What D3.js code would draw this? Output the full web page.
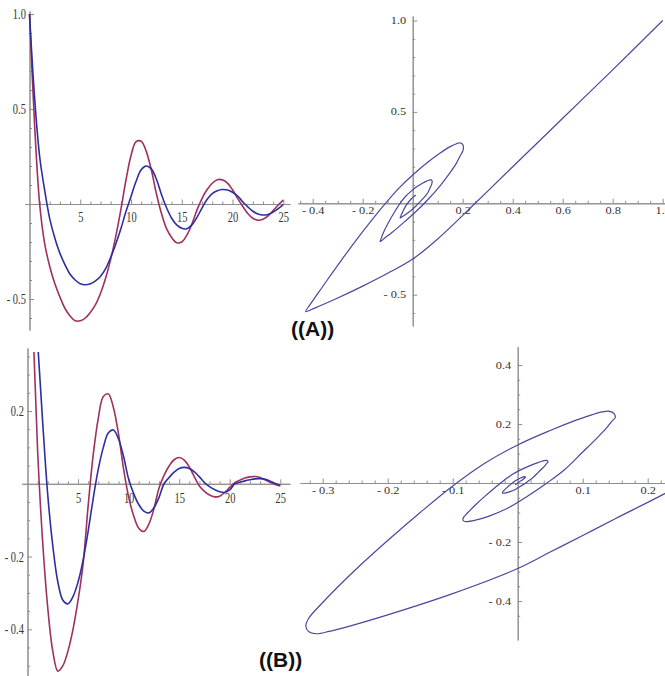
<!DOCTYPE html>
<html>
<head>
<meta charset="utf-8">
<script src="https://cdn.jsdelivr.net/npm/d3@7"></script>
<style>
  body { margin: 0; background: #fff; }
  svg { display: block; }
  .axis path, .axis line { stroke: #8e8e8e; stroke-width: 1; }
  .axis text { fill: #333; font-family: "Liberation Serif", "DejaVu Serif", serif; }
  .tag { font-family: "Liberation Sans", Arial, sans-serif; font-weight: bold; fill: #111; }
</style>
</head>
<body>
<svg id="chart" width="665" height="676"></svg>
<script>
// sampling times of the time series
const times = [0, 0.5, 1, 1.5, 2, 2.5, 3, 3.5, 4, 4.5, 5, 5.5, 6, 6.5, 7, 7.5, 8, 8.5, 9, 9.5,
  10, 10.5, 11, 11.5, 12, 12.5, 13, 13.5, 14, 14.5, 15, 15.5, 16, 16.5, 17, 17.5, 18, 18.5, 19, 19.5,
  20, 20.5, 21, 21.5, 22, 22.5, 23, 23.5, 24, 24.5, 25];

// case (A) time series
const redA = [1.0, 0.42, 0.0, -0.21, -0.33, -0.42, -0.49, -0.55, -0.59, -0.615,
  -0.615, -0.60, -0.57, -0.53, -0.47, -0.39, -0.29, -0.17, -0.03, 0.125,
  0.255, 0.328, 0.33, 0.277, 0.18, 0.054, -0.05, -0.13, -0.176, -0.204,
  -0.20, -0.164, -0.105, -0.031, 0.03, 0.076, 0.109, 0.128, 0.127, 0.11,
  0.075, 0.03, -0.012, -0.05, -0.075, -0.085, -0.08, -0.062, -0.035, -0.005, 0.02];
const blueA = [1.0, 0.56, 0.25, 0.07, -0.08, -0.18, -0.26, -0.32, -0.37, -0.40,
  -0.42, -0.425, -0.42, -0.405, -0.38, -0.34, -0.28, -0.21, -0.13, -0.04,
  0.04, 0.12, 0.18, 0.20, 0.185, 0.13, 0.05, -0.02, -0.075, -0.11,
  -0.128, -0.13, -0.11, -0.07, -0.02, 0.025, 0.055, 0.07, 0.076, 0.074,
  0.062, 0.042, 0.012, -0.015, -0.038, -0.052, -0.058, -0.055, -0.042, -0.024, -0.003];

// case (B) time series
const redB = [0.9, 0.47, 0.09, -0.16, -0.34, -0.46, -0.515, -0.50, -0.46, -0.40,
  -0.32, -0.22, -0.06, 0.08, 0.18, 0.24, 0.247, 0.209, 0.137, 0.041,
  -0.036, -0.088, -0.122, -0.131, -0.111, -0.069, -0.012, 0.023, 0.049, 0.066,
  0.072, 0.065, 0.046, 0.019, -0.006, -0.021, -0.031, -0.036, -0.034, -0.024,
  -0.01, 0.003, 0.01, 0.016, 0.019, 0.02, 0.017, 0.011, 0.004, -0.002, -0.006];
const blueB = [0.95, 0.65, 0.39, 0.17, -0.03, -0.17, -0.27, -0.32, -0.33, -0.31,
  -0.27, -0.21, -0.13, -0.04, 0.04, 0.10, 0.14, 0.148, 0.123, 0.075,
  0.013, -0.027, -0.057, -0.075, -0.08, -0.066, -0.038, 0.0, 0.017, 0.032,
  0.042, 0.045, 0.042, 0.033, 0.019, 0.003, -0.008, -0.016, -0.022, -0.024,
  -0.017, 0.0, 0.004, 0.008, 0.011, 0.0135, 0.014, 0.012, 0.007, 0.001, -0.004];

// phase portraits, points along each spiral (x = blue, y = red)
const phaseAx = [1.0, 0.8, 0.6, 0.4, 0.25, 0.1, 0.0, -0.1, -0.2, -0.3, -0.39, -0.428,
  -0.41, -0.36, -0.29, -0.2, -0.109, -0.05, 0.0, 0.06, 0.11, 0.15, 0.175, 0.19, 0.2, 0.203, 0.2,
  0.19, 0.175, 0.148, 0.112, 0.064, 0.013, -0.04, -0.083, -0.112, -0.13,
  -0.127, -0.117, -0.099, -0.074, -0.047, -0.027, -0.009, 0.014, 0.036, 0.053, 0.065, 0.074, 0.077, 0.078, 0.077,
  0.075, 0.07, 0.063, 0.051, 0.031, 0.012, -0.008, -0.027, -0.04, -0.05,
  -0.049, -0.044, -0.037, -0.027, -0.014, -0.005, 0.003, 0.012];
const phaseAy = [1.0, 0.73, 0.465, 0.2, 0.0, -0.195, -0.305, -0.383, -0.453, -0.518, -0.572, -0.592,
  -0.553, -0.455, -0.32, -0.155, 0.0, 0.09, 0.155, 0.225, 0.275, 0.31, 0.326, 0.331, 0.322, 0.305, 0.285,
  0.26, 0.22, 0.165, 0.1, 0.025, -0.045, -0.11, -0.16, -0.19, -0.21,
  -0.196, -0.16, -0.11, -0.05, 0.007, 0.04, 0.063, 0.089, 0.107, 0.12, 0.126, 0.128, 0.125, 0.118, 0.111,
  0.101, 0.086, 0.065, 0.04, 0.011, -0.016, -0.041, -0.06, -0.072, -0.08,
  -0.074, -0.0589, -0.0381, -0.0127, 0.0112, 0.025, 0.035, 0.0458];
const phaseBx = [0.4, 0.3, 0.227, 0.15, 0.1, 0.05, 0.0, -0.1, -0.2, -0.26, -0.29, -0.31, -0.322, -0.326,
  -0.322, -0.30, -0.25, -0.2, -0.15, -0.1, -0.05, 0.0, 0.05, 0.09, 0.115, 0.13, 0.141, 0.148, 0.15, 0.145,
  0.136, 0.12, 0.1, 0.072, 0.045, 0.015, -0.015, -0.045, -0.065, -0.08,
  -0.0833, -0.0844, -0.0833, -0.0773, -0.0635, -0.0498, -0.036, -0.0223, -0.0085, 0.0053, 0.019, 0.03,
  0.0369, 0.041, 0.044, 0.046, 0.0465, 0.0451,
  0.0424, 0.0376, 0.0316, 0.0232, 0.0151, 0.0061, -0.0029, -0.0119, -0.0179, -0.0224,
  -0.0236, -0.0216, -0.0179, -0.0104, -0.0029, 0.0046, 0.0106, 0.0121, 0.008, 0.002, -0.004];
const phaseBy = [0.17, 0.055, -0.035, -0.121, -0.178, -0.234, -0.29, -0.375, -0.447, -0.486, -0.503, -0.511, -0.503, -0.485,
  -0.46, -0.405, -0.295, -0.195, -0.1, -0.01, 0.068, 0.129, 0.178, 0.213, 0.232, 0.241, 0.243, 0.236, 0.222, 0.21,
  0.185, 0.148, 0.105, 0.045, 0.0, -0.045, -0.085, -0.113, -0.126, -0.131,
  -0.1285, -0.1236, -0.1167, -0.1016, -0.0713, -0.0438, -0.0177, 0.007, 0.0285, 0.0453, 0.0588, 0.0684,
  0.0736, 0.0761, 0.0766, 0.0747, 0.0709, 0.0676,
  0.0601, 0.049, 0.036, 0.018, 0.0046, -0.0089, -0.0209, -0.0293, -0.0332, -0.0347,
  -0.0327, -0.0267, -0.0184, -0.0038, 0.0088, 0.0171, 0.0218, 0.0204, 0.012, 0.003, -0.006];

// tick values
const timeMajor = [5, 10, 15, 20, 25];
const timeMinor = [1, 2, 3, 4, 6, 7, 8, 9, 11, 12, 13, 14, 16, 17, 18, 19, 21, 22, 23, 24];
const yMajorA = [1.0, 0.5, -0.5];
const yMinorA = [-0.6, -0.4, -0.3, -0.2, -0.1, 0.1, 0.2, 0.3, 0.4, 0.6, 0.7, 0.8, 0.9];
const yMajorB = [0.2, -0.2, -0.4];
const yMinorB = [-0.5, -0.45, -0.35, -0.3, -0.25, -0.15, -0.1, -0.05, 0.05, 0.1, 0.15, 0.25, 0.3, 0.35];
const pxMajorA = [-0.4, -0.2, 0.2, 0.4, 0.6, 0.8, 1.0];
const pxMinorA = [-0.45, -0.35, -0.3, -0.25, -0.15, -0.1, -0.05, 0.05, 0.1, 0.15, 0.25, 0.3, 0.35,
  0.45, 0.5, 0.55, 0.65, 0.7, 0.75, 0.85, 0.9, 0.95];
const pyMajorB = [0.4, 0.2, -0.2, -0.4];
const pyMinorB = [-0.45, -0.35, -0.3, -0.25, -0.15, -0.1, -0.05, 0.05, 0.1, 0.15, 0.25, 0.3, 0.35];
const pxMajorB = [-0.3, -0.2, -0.1, 0.1, 0.2];
const pxMinorB = [-0.32, -0.28, -0.26, -0.24, -0.22, -0.18, -0.16, -0.14, -0.12, -0.08, -0.06, -0.04, -0.02,
  0.02, 0.04, 0.06, 0.08, 0.12, 0.14, 0.16, 0.18, 0.22];

const RED = '#a0305f';
const BLUE = '#2e2ea2';
const PHASE = '#4848a0';

const svg = d3.select('#chart');

function signed(fmt) {
  return d => (d < 0 ? '- ' : '') + fmt(Math.abs(d));
}

// Mathematica-like axes crossing at the origin
function drawAxes(g, x, y, o) {
  const xa = x.copy().domain(o.xLine.map(v => x.invert(v))).range(o.xLine);
  const ya = y.copy().domain(o.yLine.map(v => y.invert(v))).range(o.yLine);
  const styleText = s => s.selectAll('text')
    .attr('font-size', o.font)
    .attr('transform', `scale(${o.sx},1)`);

  g.append('g').attr('class', 'axis').attr('transform', `translate(0,${y(0)})`)
    .call(d3.axisBottom(xa).tickValues(o.xMinor).tickFormat('').tickSizeInner(-2.5).tickSizeOuter(0));
  g.append('g').attr('class', 'axis').attr('transform', `translate(0,${y(0)})`)
    .call(d3.axisBottom(xa).tickValues(o.xMajor).tickFormat(o.xFmt)
      .tickSizeInner(-4.5).tickSizeOuter(0).tickPadding(o.xPad))
    .call(styleText);

  g.append('g').attr('class', 'axis').attr('transform', `translate(${x(0)},0)`)
    .call(d3.axisLeft(ya).tickValues(o.yMinor).tickFormat('').tickSizeInner(-2.5).tickSizeOuter(0));
  g.append('g').attr('class', 'axis').attr('transform', `translate(${x(0)},0)`)
    .call(d3.axisLeft(ya).tickValues(o.yMajor).tickFormat(o.yFmt)
      .tickSizeInner(-4.5).tickSizeOuter(0).tickPadding(o.yPad))
    .call(styleText);
}

function addClip(id, r) {
  svg.append('clipPath').attr('id', id)
    .append('rect').attr('x', r[0]).attr('y', r[1]).attr('width', r[2]).attr('height', r[3]);
}

function timePanel(id, red, blue, o) {
  const g = svg.append('g');
  const x = d3.scaleLinear().domain([0, 25]).range(o.xRange);
  const y = d3.scaleLinear().domain(o.yDomain).range(o.yRange);

  drawAxes(g, x, y, {
    xLine: o.xLine, yLine: o.yLine,
    xMajor: timeMajor, xMinor: timeMinor, xFmt: d3.format('d'), xPad: o.xPad,
    yMajor: o.yMajor, yMinor: o.yMinor, yFmt: signed(d3.format('.1f')), yPad: 5,
    font: 14.5, sx: 0.72
  });
  addClip(id, o.clip);

  const line = d3.line()
    .x(d => x(d[0])).y(d => y(d[1]))
    .curve(d3.curveCatmullRom);

  [[red, RED], [blue, BLUE]].forEach(([vals, col]) => {
    g.append('path')
      .datum(times.map((t, i) => [t, vals[i]]))
      .attr('clip-path', `url(#${id})`)
      .attr('fill', 'none').attr('stroke', col).attr('stroke-width', 1.6)
      .attr('d', line);
  });
}

function phasePanel(id, px, py, o) {
  const g = svg.append('g');
  const x = d3.scaleLinear().domain(o.xDomain).range(o.xRange);
  const y = d3.scaleLinear().domain(o.yDomain).range(o.yRange);

  drawAxes(g, x, y, {
    xLine: o.xLine, yLine: o.yLine,
    xMajor: o.xMajor, xMinor: o.xMinor, xFmt: signed(d3.format('.1f')), xPad: 4,
    yMajor: o.yMajor, yMinor: o.yMinor, yFmt: signed(d3.format('.1f')), yPad: 5,
    font: 9.5, sx: 1.3
  });
  addClip(id, o.clip);

  const line = d3.line()
    .x(d => x(d[0])).y(d => y(d[1]))
    .curve(d3.curveCatmullRom.alpha(0.5));

  g.append('path')
    .datum(px.map((v, i) => [v, py[i]]))
    .attr('clip-path', `url(#${id})`)
    .attr('fill', 'none').attr('stroke', PHASE).attr('stroke-width', 1.2)
    .attr('d', line);
}

timePanel('clipTA', redA, blueA, {
  xRange: [29.5, 283.3], yDomain: [-0.5, 1.0], yRange: [299, 14],
  xLine: [25, 290], yLine: [330, 11], xPad: 8,
  yMajor: yMajorA, yMinor: yMinorA, clip: [0, 0, 292, 335]
});

timePanel('clipTB', redB, blueB, {
  xRange: [27.5, 280.3], yDomain: [-0.4, 0.2], yRange: [629.3, 411],
  xLine: [21.7, 290], yLine: [676, 348], xPad: 9,
  yMajor: yMajorB, yMinor: yMinorB, clip: [0, 352, 292, 324]
});

phasePanel('clipPA', phaseAx, phaseAy, {
  xDomain: [-0.4, 1.0], xRange: [312.7, 662.7],
  yDomain: [-0.5, 1.0], yRange: [294.7, 20.5],
  xLine: [298, 665], yLine: [326, 16],
  xMajor: pxMajorA, xMinor: pxMinorA, yMajor: yMajorA, yMinor: yMinorA,
  clip: [292, 0, 373, 335]
});

phasePanel('clipPB', phaseBx, phaseBy, {
  xDomain: [-0.3, 0.2], xRange: [322.7, 647.7],
  yDomain: [-0.4, 0.4], yRange: [601, 365],
  xLine: [300, 665], yLine: [640, 346.7],
  xMajor: pxMajorB, xMinor: pxMinorB, yMajor: pyMajorB, yMinor: pyMinorB,
  clip: [292, 340, 373, 336]
});

svg.append('text').attr('class', 'tag').attr('x', 291).attr('y', 336)
  .attr('font-size', 21).text('((A))');
svg.append('text').attr('class', 'tag').attr('x', 259).attr('y', 667)
  .attr('font-size', 21).text('((B))');
</script>
</body>
</html>
